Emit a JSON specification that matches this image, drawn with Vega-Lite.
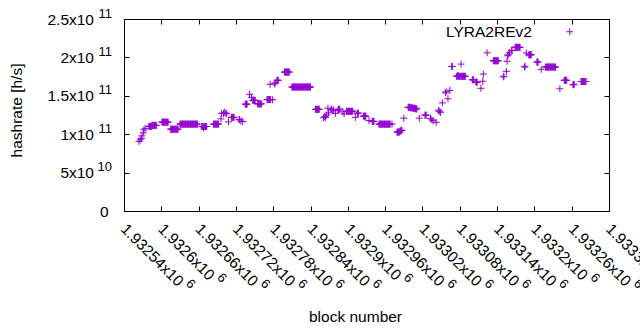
{
  "$schema": "https://vega.github.io/schema/vega-lite/v6.json",
  "width": 485,
  "height": 192,
  "autosize": {"type": "none"},
  "padding": {"left": 124, "top": 19, "right": 31, "bottom": 119},
  "background": "white",
  "data": {"values": [
    {"block": 1932564, "hashrate": 9.06e10}, {"block": 1932566, "hashrate": 9.26e10}, {"block": 1932568, "hashrate": 9.45e10},
    {"block": 1932569, "hashrate": 9.78e10}, {"block": 1932571, "hashrate": 1.017e11}, {"block": 1932572, "hashrate": 1.056e11},
    {"block": 1932574, "hashrate": 1.076e11},
    {"block": 1932580, "hashrate": 1.102e11}, {"block": 1932581, "hashrate": 1.102e11}, {"block": 1932582, "hashrate": 1.102e11},
    {"block": 1932583, "hashrate": 1.102e11}, {"block": 1932584, "hashrate": 1.102e11},
    {"block": 1932585, "hashrate": 1.115e11}, {"block": 1932586, "hashrate": 1.115e11}, {"block": 1932587, "hashrate": 1.115e11},
    {"block": 1932588, "hashrate": 1.115e11}, {"block": 1932589, "hashrate": 1.115e11}, {"block": 1932590, "hashrate": 1.115e11},
    {"block": 1932591, "hashrate": 1.115e11}, {"block": 1932592, "hashrate": 1.115e11},
    {"block": 1932601, "hashrate": 1.157e11}, {"block": 1932602, "hashrate": 1.157e11}, {"block": 1932603, "hashrate": 1.157e11},
    {"block": 1932604, "hashrate": 1.157e11}, {"block": 1932605, "hashrate": 1.157e11}, {"block": 1932606, "hashrate": 1.157e11},
    {"block": 1932607, "hashrate": 1.157e11}, {"block": 1932608, "hashrate": 1.157e11}, {"block": 1932609, "hashrate": 1.157e11},
    {"block": 1932610, "hashrate": 1.157e11}, {"block": 1932611, "hashrate": 1.157e11},
    {"block": 1932615, "hashrate": 1.065e11}, {"block": 1932616, "hashrate": 1.065e11}, {"block": 1932617, "hashrate": 1.065e11},
    {"block": 1932618, "hashrate": 1.065e11}, {"block": 1932619, "hashrate": 1.065e11}, {"block": 1932620, "hashrate": 1.065e11},
    {"block": 1932621, "hashrate": 1.065e11}, {"block": 1932622, "hashrate": 1.065e11}, {"block": 1932623, "hashrate": 1.065e11},
    {"block": 1932624, "hashrate": 1.065e11}, {"block": 1932625, "hashrate": 1.065e11}, {"block": 1932626, "hashrate": 1.065e11},
    {"block": 1932627, "hashrate": 1.065e11},
    {"block": 1932630, "hashrate": 1.131e11}, {"block": 1932631, "hashrate": 1.131e11}, {"block": 1932632, "hashrate": 1.131e11},
    {"block": 1932633, "hashrate": 1.131e11}, {"block": 1932634, "hashrate": 1.131e11}, {"block": 1932635, "hashrate": 1.131e11},
    {"block": 1932636, "hashrate": 1.131e11}, {"block": 1932637, "hashrate": 1.131e11}, {"block": 1932638, "hashrate": 1.131e11},
    {"block": 1932639, "hashrate": 1.131e11}, {"block": 1932640, "hashrate": 1.131e11}, {"block": 1932641, "hashrate": 1.131e11},
    {"block": 1932642, "hashrate": 1.131e11}, {"block": 1932643, "hashrate": 1.131e11}, {"block": 1932644, "hashrate": 1.131e11},
    {"block": 1932645, "hashrate": 1.131e11}, {"block": 1932646, "hashrate": 1.131e11}, {"block": 1932647, "hashrate": 1.131e11},
    {"block": 1932648, "hashrate": 1.131e11}, {"block": 1932649, "hashrate": 1.131e11}, {"block": 1932650, "hashrate": 1.131e11},
    {"block": 1932651, "hashrate": 1.131e11}, {"block": 1932652, "hashrate": 1.131e11}, {"block": 1932653, "hashrate": 1.131e11},
    {"block": 1932654, "hashrate": 1.131e11}, {"block": 1932655, "hashrate": 1.131e11}, {"block": 1932656, "hashrate": 1.131e11},
    {"block": 1932657, "hashrate": 1.131e11}, {"block": 1932658, "hashrate": 1.131e11},
    {"block": 1932665, "hashrate": 1.100e11}, {"block": 1932666, "hashrate": 1.100e11}, {"block": 1932667, "hashrate": 1.100e11},
    {"block": 1932668, "hashrate": 1.082e11}, {"block": 1932669, "hashrate": 1.100e11}, {"block": 1932670, "hashrate": 1.100e11},
    {"block": 1932671, "hashrate": 1.100e11}, {"block": 1932672, "hashrate": 1.100e11}, {"block": 1932673, "hashrate": 1.100e11},
    {"block": 1932684, "hashrate": 1.131e11}, {"block": 1932685, "hashrate": 1.131e11}, {"block": 1932686, "hashrate": 1.131e11},
    {"block": 1932687, "hashrate": 1.131e11}, {"block": 1932688, "hashrate": 1.131e11}, {"block": 1932689, "hashrate": 1.131e11},
    {"block": 1932690, "hashrate": 1.131e11}, {"block": 1932691, "hashrate": 1.131e11}, {"block": 1932692, "hashrate": 1.131e11},
    {"block": 1932696, "hashrate": 1.200e11}, {"block": 1932697, "hashrate": 1.274e11}, {"block": 1932700, "hashrate": 1.271e11},
    {"block": 1932702, "hashrate": 1.285e11}, {"block": 1932704, "hashrate": 1.271e11}, {"block": 1932705, "hashrate": 1.265e11},
    {"block": 1932708, "hashrate": 1.161e11},
    {"block": 1932713, "hashrate": 1.219e11}, {"block": 1932714, "hashrate": 1.219e11}, {"block": 1932715, "hashrate": 1.219e11},
    {"block": 1932716, "hashrate": 1.219e11}, {"block": 1932717, "hashrate": 1.219e11},
    {"block": 1932725, "hashrate": 1.193e11}, {"block": 1932726, "hashrate": 1.187e11}, {"block": 1932728, "hashrate": 1.170e11},
    {"block": 1932731, "hashrate": 1.165e11},
    {"block": 1932735, "hashrate": 1.391e11}, {"block": 1932736, "hashrate": 1.391e11}, {"block": 1932737, "hashrate": 1.391e11},
    {"block": 1932738, "hashrate": 1.391e11},
    {"block": 1932742, "hashrate": 1.519e11}, {"block": 1932745, "hashrate": 1.480e11},
    {"block": 1932747, "hashrate": 1.441e11}, {"block": 1932748, "hashrate": 1.441e11}, {"block": 1932749, "hashrate": 1.441e11},
    {"block": 1932750, "hashrate": 1.441e11}, {"block": 1932751, "hashrate": 1.441e11},
    {"block": 1932755, "hashrate": 1.395e11}, {"block": 1932756, "hashrate": 1.395e11}, {"block": 1932757, "hashrate": 1.395e11},
    {"block": 1932758, "hashrate": 1.395e11}, {"block": 1932759, "hashrate": 1.395e11}, {"block": 1932760, "hashrate": 1.395e11},
    {"block": 1932761, "hashrate": 1.395e11},
    {"block": 1932770, "hashrate": 1.451e11}, {"block": 1932771, "hashrate": 1.451e11}, {"block": 1932772, "hashrate": 1.451e11},
    {"block": 1932773, "hashrate": 1.451e11}, {"block": 1932774, "hashrate": 1.451e11}, {"block": 1932775, "hashrate": 1.451e11},
    {"block": 1932776, "hashrate": 1.451e11}, {"block": 1932779, "hashrate": 1.448e11},
    {"block": 1932775, "hashrate": 1.650e11}, {"block": 1932782, "hashrate": 1.656e11}, {"block": 1932784, "hashrate": 1.669e11},
    {"block": 1932786, "hashrate": 1.702e11}, {"block": 1932787, "hashrate": 1.702e11}, {"block": 1932788, "hashrate": 1.702e11},
    {"block": 1932798, "hashrate": 1.809e11}, {"block": 1932799, "hashrate": 1.809e11}, {"block": 1932800, "hashrate": 1.809e11},
    {"block": 1932801, "hashrate": 1.809e11}, {"block": 1932802, "hashrate": 1.809e11}, {"block": 1932803, "hashrate": 1.809e11},
    {"block": 1932804, "hashrate": 1.809e11}, {"block": 1932805, "hashrate": 1.809e11}, {"block": 1932806, "hashrate": 1.809e11},
    {"block": 1932810, "hashrate": 1.614e11}, {"block": 1932811, "hashrate": 1.614e11}, {"block": 1932812, "hashrate": 1.614e11},
    {"block": 1932813, "hashrate": 1.614e11}, {"block": 1932814, "hashrate": 1.614e11}, {"block": 1932815, "hashrate": 1.614e11},
    {"block": 1932816, "hashrate": 1.614e11}, {"block": 1932817, "hashrate": 1.614e11}, {"block": 1932818, "hashrate": 1.614e11},
    {"block": 1932819, "hashrate": 1.614e11}, {"block": 1932820, "hashrate": 1.614e11}, {"block": 1932821, "hashrate": 1.614e11},
    {"block": 1932822, "hashrate": 1.614e11}, {"block": 1932823, "hashrate": 1.614e11}, {"block": 1932824, "hashrate": 1.614e11},
    {"block": 1932825, "hashrate": 1.614e11}, {"block": 1932826, "hashrate": 1.614e11}, {"block": 1932827, "hashrate": 1.614e11},
    {"block": 1932828, "hashrate": 1.614e11}, {"block": 1932829, "hashrate": 1.614e11}, {"block": 1932830, "hashrate": 1.614e11},
    {"block": 1932831, "hashrate": 1.614e11}, {"block": 1932832, "hashrate": 1.614e11}, {"block": 1932833, "hashrate": 1.614e11},
    {"block": 1932834, "hashrate": 1.614e11}, {"block": 1932835, "hashrate": 1.614e11}, {"block": 1932836, "hashrate": 1.614e11},
    {"block": 1932837, "hashrate": 1.614e11}, {"block": 1932838, "hashrate": 1.614e11}, {"block": 1932839, "hashrate": 1.614e11},
    {"block": 1932840, "hashrate": 1.614e11},
    {"block": 1932848, "hashrate": 1.324e11}, {"block": 1932849, "hashrate": 1.324e11}, {"block": 1932850, "hashrate": 1.324e11},
    {"block": 1932851, "hashrate": 1.324e11}, {"block": 1932852, "hashrate": 1.324e11}, {"block": 1932853, "hashrate": 1.324e11},
    {"block": 1932854, "hashrate": 1.324e11},
    {"block": 1932861, "hashrate": 1.213e11}, {"block": 1932863, "hashrate": 1.232e11}, {"block": 1932864, "hashrate": 1.219e11},
    {"block": 1932866, "hashrate": 1.252e11}, {"block": 1932868, "hashrate": 1.339e11}, {"block": 1932869, "hashrate": 1.278e11},
    {"block": 1932873, "hashrate": 1.324e11}, {"block": 1932874, "hashrate": 1.324e11}, {"block": 1932876, "hashrate": 1.304e11},
    {"block": 1932877, "hashrate": 1.317e11}, {"block": 1932880, "hashrate": 1.271e11}, {"block": 1932884, "hashrate": 1.311e11},
    {"block": 1932885, "hashrate": 1.324e11}, {"block": 1932886, "hashrate": 1.324e11}, {"block": 1932887, "hashrate": 1.324e11},
    {"block": 1932892, "hashrate": 1.291e11}, {"block": 1932894, "hashrate": 1.265e11},
    {"block": 1932898, "hashrate": 1.298e11}, {"block": 1932899, "hashrate": 1.298e11}, {"block": 1932900, "hashrate": 1.298e11},
    {"block": 1932901, "hashrate": 1.298e11}, {"block": 1932902, "hashrate": 1.298e11}, {"block": 1932903, "hashrate": 1.298e11},
    {"block": 1932904, "hashrate": 1.298e11}, {"block": 1932905, "hashrate": 1.298e11}, {"block": 1932906, "hashrate": 1.298e11},
    {"block": 1932907, "hashrate": 1.298e11}, {"block": 1932908, "hashrate": 1.298e11},
    {"block": 1932912, "hashrate": 1.219e11},
    {"block": 1932915, "hashrate": 1.274e11}, {"block": 1932916, "hashrate": 1.274e11}, {"block": 1932917, "hashrate": 1.274e11},
    {"block": 1932925, "hashrate": 1.235e11}, {"block": 1932926, "hashrate": 1.235e11}, {"block": 1932927, "hashrate": 1.235e11},
    {"block": 1932928, "hashrate": 1.235e11}, {"block": 1932929, "hashrate": 1.235e11},
    {"block": 1932934, "hashrate": 1.178e11},
    {"block": 1932939, "hashrate": 1.167e11}, {"block": 1932940, "hashrate": 1.167e11}, {"block": 1932941, "hashrate": 1.167e11},
    {"block": 1932942, "hashrate": 1.167e11},
    {"block": 1932950, "hashrate": 1.131e11}, {"block": 1932951, "hashrate": 1.131e11}, {"block": 1932952, "hashrate": 1.131e11},
    {"block": 1932953, "hashrate": 1.131e11}, {"block": 1932954, "hashrate": 1.131e11}, {"block": 1932955, "hashrate": 1.131e11},
    {"block": 1932956, "hashrate": 1.131e11}, {"block": 1932957, "hashrate": 1.131e11}, {"block": 1932958, "hashrate": 1.131e11},
    {"block": 1932959, "hashrate": 1.131e11}, {"block": 1932960, "hashrate": 1.131e11}, {"block": 1932961, "hashrate": 1.131e11},
    {"block": 1932962, "hashrate": 1.131e11}, {"block": 1932963, "hashrate": 1.131e11}, {"block": 1932964, "hashrate": 1.131e11},
    {"block": 1932965, "hashrate": 1.131e11}, {"block": 1932966, "hashrate": 1.131e11}, {"block": 1932967, "hashrate": 1.131e11},
    {"block": 1932968, "hashrate": 1.131e11}, {"block": 1932971, "hashrate": 1.131e11},
    {"block": 1932979, "hashrate": 1.028e11}, {"block": 1932980, "hashrate": 1.028e11}, {"block": 1932981, "hashrate": 1.028e11},
    {"block": 1932982, "hashrate": 1.028e11}, {"block": 1932983, "hashrate": 1.028e11}, {"block": 1932984, "hashrate": 1.043e11},
    {"block": 1932985, "hashrate": 1.043e11}, {"block": 1932986, "hashrate": 1.050e11}, {"block": 1932987, "hashrate": 1.050e11},
    {"block": 1932990, "hashrate": 1.209e11},
    {"block": 1932997, "hashrate": 1.350e11}, {"block": 1932998, "hashrate": 1.350e11}, {"block": 1932999, "hashrate": 1.350e11},
    {"block": 1933000, "hashrate": 1.350e11}, {"block": 1933001, "hashrate": 1.343e11}, {"block": 1933002, "hashrate": 1.343e11},
    {"block": 1933003, "hashrate": 1.343e11}, {"block": 1933004, "hashrate": 1.343e11}, {"block": 1933005, "hashrate": 1.337e11},
    {"block": 1933006, "hashrate": 1.337e11}, {"block": 1933007, "hashrate": 1.337e11}, {"block": 1933008, "hashrate": 1.337e11},
    {"block": 1933009, "hashrate": 1.330e11}, {"block": 1933010, "hashrate": 1.330e11}, {"block": 1933011, "hashrate": 1.330e11},
    {"block": 1933015, "hashrate": 1.209e11},
    {"block": 1933024, "hashrate": 1.248e11}, {"block": 1933025, "hashrate": 1.248e11}, {"block": 1933026, "hashrate": 1.248e11},
    {"block": 1933033, "hashrate": 1.206e11}, {"block": 1933035, "hashrate": 1.187e11}, {"block": 1933037, "hashrate": 1.174e11},
    {"block": 1933042, "hashrate": 1.154e11},
    {"block": 1933046, "hashrate": 1.311e11}, {"block": 1933047, "hashrate": 1.298e11}, {"block": 1933049, "hashrate": 1.285e11},
    {"block": 1933052, "hashrate": 1.408e11}, {"block": 1933057, "hashrate": 1.539e11}, {"block": 1933058, "hashrate": 1.552e11},
    {"block": 1933061, "hashrate": 1.461e11}, {"block": 1933064, "hashrate": 1.571e11},
    {"block": 1933067, "hashrate": 1.882e11}, {"block": 1933068, "hashrate": 1.882e11}, {"block": 1933082, "hashrate": 1.913e11},
    {"block": 1933075, "hashrate": 1.754e11}, {"block": 1933076, "hashrate": 1.754e11}, {"block": 1933077, "hashrate": 1.767e11},
    {"block": 1933078, "hashrate": 1.754e11}, {"block": 1933079, "hashrate": 1.754e11}, {"block": 1933080, "hashrate": 1.754e11},
    {"block": 1933081, "hashrate": 1.754e11}, {"block": 1933083, "hashrate": 1.754e11}, {"block": 1933084, "hashrate": 1.754e11},
    {"block": 1933085, "hashrate": 1.754e11}, {"block": 1933086, "hashrate": 1.754e11}, {"block": 1933087, "hashrate": 1.754e11},
    {"block": 1933088, "hashrate": 1.754e11}, {"block": 1933089, "hashrate": 1.754e11},
    {"block": 1933100, "hashrate": 1.708e11}, {"block": 1933101, "hashrate": 1.708e11}, {"block": 1933102, "hashrate": 1.708e11},
    {"block": 1933106, "hashrate": 1.680e11}, {"block": 1933107, "hashrate": 1.678e11}, {"block": 1933108, "hashrate": 1.676e11},
    {"block": 1933114, "hashrate": 1.598e11}, {"block": 1933117, "hashrate": 1.689e11}, {"block": 1933118, "hashrate": 1.783e11},
    {"block": 1933124, "hashrate": 2.060e11},
    {"block": 1933134, "hashrate": 1.956e11}, {"block": 1933135, "hashrate": 1.956e11}, {"block": 1933136, "hashrate": 1.956e11},
    {"block": 1933137, "hashrate": 1.956e11}, {"block": 1933138, "hashrate": 1.956e11}, {"block": 1933139, "hashrate": 1.956e11},
    {"block": 1933140, "hashrate": 1.956e11}, {"block": 1933141, "hashrate": 1.956e11}, {"block": 1933142, "hashrate": 1.956e11},
    {"block": 1933150, "hashrate": 1.747e11}, {"block": 1933151, "hashrate": 1.754e11},
    {"block": 1933155, "hashrate": 1.819e11}, {"block": 1933156, "hashrate": 1.950e11}, {"block": 1933157, "hashrate": 2.021e11},
    {"block": 1933158, "hashrate": 2.034e11}, {"block": 1933160, "hashrate": 2.060e11}, {"block": 1933163, "hashrate": 2.093e11},
    {"block": 1933164, "hashrate": 2.087e11},
    {"block": 1933169, "hashrate": 2.131e11}, {"block": 1933170, "hashrate": 2.131e11}, {"block": 1933171, "hashrate": 2.131e11},
    {"block": 1933172, "hashrate": 2.131e11}, {"block": 1933173, "hashrate": 2.131e11}, {"block": 1933174, "hashrate": 2.131e11},
    {"block": 1933175, "hashrate": 2.131e11}, {"block": 1933176, "hashrate": 2.131e11}, {"block": 1933177, "hashrate": 2.131e11},
    {"block": 1933184, "hashrate": 1.874e11}, {"block": 1933185, "hashrate": 1.884e11}, {"block": 1933187, "hashrate": 2.057e11},
    {"block": 1933191, "hashrate": 2.034e11}, {"block": 1933192, "hashrate": 2.034e11}, {"block": 1933193, "hashrate": 2.034e11},
    {"block": 1933194, "hashrate": 2.034e11}, {"block": 1933195, "hashrate": 2.034e11},
    {"block": 1933204, "hashrate": 1.939e11}, {"block": 1933205, "hashrate": 1.939e11}, {"block": 1933206, "hashrate": 1.939e11},
    {"block": 1933211, "hashrate": 1.845e11},
    {"block": 1933218, "hashrate": 1.874e11}, {"block": 1933219, "hashrate": 1.874e11}, {"block": 1933220, "hashrate": 1.874e11},
    {"block": 1933221, "hashrate": 1.874e11}, {"block": 1933222, "hashrate": 1.874e11}, {"block": 1933223, "hashrate": 1.874e11},
    {"block": 1933224, "hashrate": 1.874e11}, {"block": 1933225, "hashrate": 1.874e11}, {"block": 1933226, "hashrate": 1.874e11},
    {"block": 1933227, "hashrate": 1.874e11}, {"block": 1933228, "hashrate": 1.874e11}, {"block": 1933229, "hashrate": 1.874e11},
    {"block": 1933230, "hashrate": 1.874e11}, {"block": 1933231, "hashrate": 1.874e11}, {"block": 1933232, "hashrate": 1.874e11},
    {"block": 1933233, "hashrate": 1.874e11}, {"block": 1933234, "hashrate": 1.874e11},
    {"block": 1933241, "hashrate": 1.591e11},
    {"block": 1933248, "hashrate": 1.702e11}, {"block": 1933249, "hashrate": 1.702e11}, {"block": 1933250, "hashrate": 1.702e11},
    {"block": 1933251, "hashrate": 1.702e11}, {"block": 1933252, "hashrate": 1.702e11},
    {"block": 1933262, "hashrate": 1.643e11}, {"block": 1933263, "hashrate": 1.646e11}, {"block": 1933264, "hashrate": 1.650e11},
    {"block": 1933275, "hashrate": 1.686e11}, {"block": 1933276, "hashrate": 1.686e11}, {"block": 1933277, "hashrate": 1.686e11},
    {"block": 1933278, "hashrate": 1.686e11}, {"block": 1933279, "hashrate": 1.686e11}, {"block": 1933280, "hashrate": 1.686e11},
    {"block": 1933281, "hashrate": 1.686e11}, {"block": 1933282, "hashrate": 1.686e11}, {"block": 1933283, "hashrate": 1.686e11}
  ]},
  "layer": [
    {
      "mark": {"type": "point", "shape": "M-1,0H1M0,-1V1", "size": 49, "filled": false, "strokeWidth": 1, "opacity": 1},
      "encoding": {
        "x": {
          "field": "block", "type": "quantitative",
          "scale": {"domain": [1932540, 1933320], "nice": false, "zero": false},
          "axis": {
            "orient": "bottom",
            "values": [1932540, 1932600, 1932660, 1932720, 1932780, 1932840, 1932900, 1932960, 1933020, 1933080, 1933140, 1933200, 1933260, 1933320],
            "labelExpr": "format(datum.value / 1000000, '.6~g') + 'x10'",
            "labelAngle": 45, "labelAlign": "left", "labelBaseline": "middle",
            "tickSize": -5, "labelPadding": 20, "labelOffset": -1,
            "labelOverlap": false, "labelFlush": false, "labelBound": false, "labelLimit": 0,
            "title": "block number", "titleX": 231, "titleY": 110,
            "titleAlign": "center", "titleBaseline": "alphabetic"
          }
        },
        "y": {
          "field": "hashrate", "type": "quantitative",
          "scale": {"domain": [0, 250000000000], "nice": false, "zero": true},
          "axis": {
            "orient": "left",
            "values": [0, 50000000000, 100000000000, 150000000000, 200000000000, 250000000000],
            "labelExpr": "datum.value == 0 ? '' : ((datum.value < 100000000000 ? format(datum.value / 10000000000, '~g') : format(datum.value / 100000000000, '~g')) + 'x10')",
            "tickSize": -5, "labelPadding": 35.5,
            "labelOverlap": false, "labelFlush": false, "labelBound": false, "labelLimit": 0,
            "title": "hashrate [h/s]", "titleX": -103, "titleY": 91, "titleAngle": -90,
            "titleAlign": "center", "titleBaseline": "alphabetic"
          }
        },
        "color": {
          "datum": "LYRA2REv2",
          "scale": {"range": ["#9400d3"]},
          "legend": {
            "orient": "none", "legendX": 322, "legendY": 5, "padding": 0,
            "title": "LYRA2REv2", "titleOrient": "left", "titleAnchor": "middle", "titleBaseline": "middle",
            "titlePadding": 30, "titleFont": "Liberation Sans", "titleFontSize": 15.5, "titleFontWeight": "normal",
            "titleColor": "black", "titleLimit": 0,
            "symbolType": "M-1,0H1M0,-1V1", "symbolSize": 49, "symbolStrokeWidth": 1,
            "labelExpr": "''", "labelOffset": 0, "labelFontSize": 15.5
          }
        }
      }
    },
    {
      "mark": {"type": "point", "opacity": 0},
      "encoding": {
        "x": {
          "field": "block", "type": "quantitative",
          "scale": {"domain": [1932540, 1933320], "nice": false, "zero": false},
          "axis": {
            "orient": "top",
            "values": [1932540, 1932600, 1932660, 1932720, 1932780, 1932840, 1932900, 1932960, 1933020, 1933080, 1933140, 1933200, 1933260, 1933320],
            "labels": false, "tickSize": -5, "title": null
          }
        },
        "y": {
          "field": "hashrate", "type": "quantitative",
          "scale": {"domain": [0, 250000000000], "nice": false, "zero": true},
          "axis": {
            "orient": "right",
            "values": [0, 50000000000, 100000000000, 150000000000, 200000000000, 250000000000],
            "labels": false, "tickSize": -5, "title": null
          }
        }
      }
    },
    {
      "mark": {"type": "point", "opacity": 0},
      "encoding": {
        "x": {
          "field": "block", "type": "quantitative",
          "scale": {"domain": [1932540, 1933320], "nice": false, "zero": false},
          "axis": {
            "orient": "bottom",
            "values": [1932540, 1932600, 1932660, 1932720, 1932780, 1932840, 1932900, 1932960, 1933020, 1933080, 1933140, 1933200, 1933260, 1933320],
            "ticks": false, "title": null,
            "labelExpr": "'6'", "labelFontSize": 13,
            "labelAngle": 45, "labelAlign": "left", "labelBaseline": "middle",
            "labelOffset": {"condition": {"test": "length(format(datum.value / 1000000, '.6~g')) == 7", "value": 63.6}, "value": 57.6},
            "labelPadding": {"condition": {"test": "length(format(datum.value / 1000000, '.6~g')) == 7", "value": 70}, "value": 64},
            "labelOverlap": false, "labelFlush": false, "labelBound": false, "labelLimit": 0
          }
        },
        "y": {
          "field": "hashrate", "type": "quantitative",
          "scale": {"domain": [0, 250000000000], "nice": false, "zero": true},
          "axis": {
            "orient": "left",
            "values": [0, 50000000000, 100000000000, 150000000000, 200000000000, 250000000000],
            "ticks": false, "title": null,
            "labelExpr": "datum.value == 0 ? '0' : (datum.value < 100000000000 ? '10' : '11')",
            "labelFontSize": {"condition": {"test": "datum.value == 0", "value": 15.5}, "value": 13},
            "labelOffset": {"condition": {"test": "datum.value == 0", "value": 0}, "value": -6},
            "labelPadding": {"condition": {"test": "datum.value == 0", "value": 16}, "value": 12.5},
            "labelOverlap": false, "labelFlush": false, "labelBound": false, "labelLimit": 0
          }
        }
      }
    }
  ],
  "resolve": {"axis": {"x": "independent", "y": "independent"}},
  "config": {
    "view": {"stroke": "black", "strokeWidth": 1},
    "axis": {
      "labelFont": "Liberation Sans", "titleFont": "Liberation Sans",
      "labelFontSize": 15.5, "titleFontSize": 15.5,
      "labelColor": "black", "titleColor": "black", "titleFontWeight": "normal",
      "tickColor": "black", "tickWidth": 1, "grid": false, "domain": false
    }
  }
}
